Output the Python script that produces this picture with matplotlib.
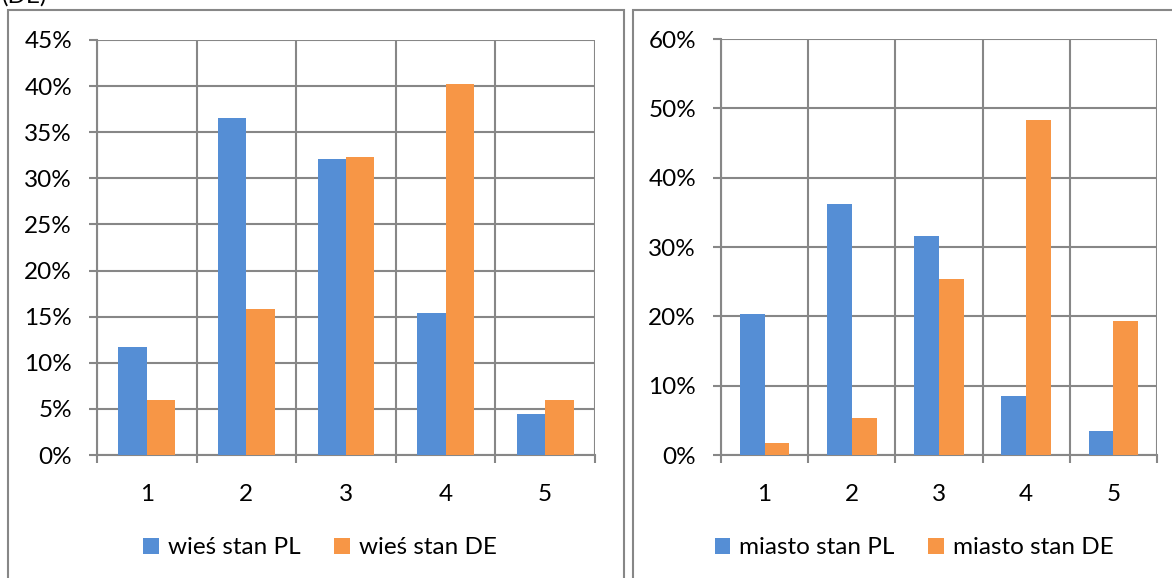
import matplotlib.pyplot as plt
from matplotlib.patches import Rectangle
from matplotlib.ticker import PercentFormatter

plt.rcParams['font.family'] = ['Lato', 'DejaVu Sans']

categories = ['1', '2', '3', '4', '5']

# wieś (village)
wies_pl = [11.7, 36.5, 32.1, 15.4, 4.4]
wies_de = [6.0, 15.8, 32.3, 40.2, 6.0]

# miasto (town)
miasto_pl = [20.3, 36.2, 31.6, 8.5, 3.5]
miasto_de = [1.8, 5.3, 25.4, 48.3, 19.3]

BLUE = '#558ED5'
ORANGE = '#F79646'
GRID = '#878787'
FS = 17.5

W, H = 1172, 578
fig = plt.figure(figsize=(W / 100, H / 100), dpi=100)


def px_axes(left, top, right, bottom):
    return fig.add_axes([left / W, 1 - bottom / H, (right - left) / W, (bottom - top) / H])


def draw_panel(ax, pl, de, labels, ymax, ystep, legend_xy):
    x = list(range(len(categories)))
    w = 0.285
    b1 = ax.bar([i - w / 2 for i in x], pl, width=w, color=BLUE, label=labels[0], zorder=3)
    b2 = ax.bar([i + w / 2 for i in x], de, width=w, color=ORANGE, label=labels[1], zorder=3)

    ax.set_xlim(-0.5, len(categories) - 0.5)
    ax.set_ylim(0, ymax)
    ax.set_yticks(range(0, ymax + 1, ystep))
    ax.yaxis.set_major_formatter(PercentFormatter(decimals=0))
    ax.set_xticks(x)
    ax.set_xticklabels(categories)
    ax.set_xticks([i - 0.5 for i in range(len(categories) + 1)], minor=True)

    ax.grid(True, which='minor', axis='x', color=GRID, linewidth=1.5, zorder=0)
    ax.grid(True, which='major', axis='y', color=GRID, linewidth=1.5, zorder=0)
    for s in ['top', 'right']:
        ax.spines[s].set_visible(False)
    for s in ['left', 'bottom']:
        ax.spines[s].set_color(GRID)
        ax.spines[s].set_linewidth(1.5)

    ax.tick_params(axis='x', which='major', length=0, pad=21, labelsize=FS)
    ax.tick_params(axis='x', which='minor', length=6, width=1.5, color=GRID, direction='out')
    ax.tick_params(axis='y', length=6, width=1.5, color=GRID, pad=12, labelsize=FS)

    fig.legend(handles=[b1, b2], loc='center', ncol=2, frameon=False,
               bbox_to_anchor=(legend_xy[0] / W, 1 - legend_xy[1] / H),
               fontsize=FS, handlelength=0.65, handleheight=0.65,
               handletextpad=0.35, columnspacing=1.4)


ax1 = px_axes(97, 40, 595, 455)
draw_panel(ax1, wies_pl, wies_de, ['wieś stan PL', 'wieś stan DE'], 45, 5, (320, 548))

ax2 = px_axes(721, 39, 1157, 455)
draw_panel(ax2, miasto_pl, miasto_de, ['miasto stan PL', 'miasto stan DE'], 60, 10, (914, 548))

# chart frames
fig.patches.append(Rectangle((8 / W, -0.1), (624 - 8) / W, 1.1 - 10 / H,
                             transform=fig.transFigure, fill=False,
                             edgecolor=GRID, linewidth=1.5))
fig.patches.append(Rectangle((633 / W, -0.1), 0.5, 1.1 - 10 / H,
                             transform=fig.transFigure, fill=False,
                             edgecolor=GRID, linewidth=1.5))

# caption above the charts, cut by the page top as in the source
fig.text(2 / W, 1 + 4 / H, '(DE)', fontsize=FS, va='center', ha='left')

fig.savefig('out.png', dpi=100)
